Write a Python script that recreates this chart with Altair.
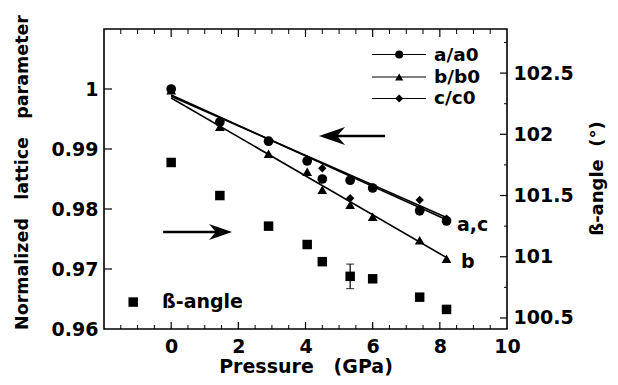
import altair as alt
import pandas as pd

# ---------------- data ----------------
pressure = [0, 1.45, 2.9, 4.05, 4.5, 5.33, 6.0, 7.4, 8.2]
a_norm = [1.0, 0.9945, 0.9913, 0.9880, 0.9850, 0.9848, 0.9835, 0.9797, 0.9780]
b_norm = [0.9998, 0.9937, 0.9892, 0.9862, 0.9832, 0.9807, 0.9787, 0.9748, 0.9717]
c_norm = [1.0, 0.9946, 0.9912, 0.9883, 0.9868, 0.9818, 0.9836, 0.9815, 0.9784]
a_err = [0, 0, 0, 0, 0, 0.0006, 0, 0, 0]
beta = [101.77, 101.50, 101.25, 101.10, 100.96, 100.84, 100.82, 100.67, 100.57]
beta_err = [0, 0, 0, 0.03, 0, 0.10, 0, 0, 0]

fit_p = [0, 8.2]
fit_a = [0.9990, 0.9782]
fit_b = [0.9985, 0.9719]
fit_c = [0.9988, 0.9786]

series_names = ["a/a0", "b/b0", "c/c0"]
x_labels = [0, 2, 4, 6, 8, 10]
yl_labels = [0.96, 0.97, 0.98, 0.99, 1.0]
yr_labels = [100.5, 101, 101.5, 102, 102.5]
x_major = [0, 2, 4, 6, 8]
x_minor = [-1.5, -1, -0.5, 0.5, 1, 1.5, 2.5, 3, 3.5, 4.5, 5, 5.5, 6.5, 7, 7.5, 8.5, 9, 9.5]
yl_major = [0.97, 0.98, 0.99, 1.0]
yr_major = [100.5, 101, 101.5, 102, 102.5]
yr_minor = [100.75, 101.25, 101.75, 102.25, 102.75]

# ---------------- settings ----------------
W, H = 403, 300
FONT = "DejaVu Sans"
FS = 19
xs = alt.Scale(domain=[-2, 10], nice=False, zero=False)
yls = alt.Scale(domain=[0.96, 1.01], nice=False, zero=False)
yrs = alt.Scale(domain=[100.41, 102.86], nice=False, zero=False)

x_axis = alt.Axis(values=x_labels, format="d", ticks=False, domain=False, grid=False,
                  labelFont=FONT, labelFontWeight="bold", labelFontSize=FS,
                  labelColor="black", labelPadding=8, labelFlush=False,
                  title="Pressure\u00a0\u00a0\u00a0(GPa)", titleFont=FONT,
                  titleFontWeight="bold", titleFontSize=FS, titleColor="black",
                  titleY=37, titleBaseline="middle")
yl_axis = alt.Axis(values=yl_labels, format="~g", ticks=False, domain=False, grid=False,
                   labelFont=FONT, labelFontWeight="bold", labelFontSize=FS,
                   labelColor="black", labelPadding=6,
                   title="Normalized\u00a0\u00a0\u00a0lattice\u00a0\u00a0\u00a0parameter",
                   titleFont=FONT, titleFontWeight="bold", titleFontSize=17.5,
                   titleColor="black", titleAngle=270, titleX=-82, titleY=143,
                   titleAlign="center", titleBaseline="middle")
yr_axis = alt.Axis(values=yr_labels, format="~g", ticks=False, domain=False, grid=False,
                   orient="right",
                   labelFont=FONT, labelFontWeight="bold", labelFontSize=FS,
                   labelColor="black", labelPadding=6,
                   title="ß-angle\u00a0\u00a0(°)", titleFont=FONT, titleFontWeight="bold",
                   titleFontSize=18, titleColor="black", titleAngle=270,
                   titleX=90, titleY=149, titleAlign="center", titleBaseline="middle")

pts = pd.DataFrame({"p": pressure, "a": a_norm, "b": b_norm, "c": c_norm,
                    "ae": a_err, "beta": beta, "be": beta_err})
pts["a_lo"] = pts["a"] - pts["ae"]
pts["a_hi"] = pts["a"] + pts["ae"]
pts["b_lo"] = pts["beta"] - pts["be"]
pts["b_hi"] = pts["beta"] + pts["be"]
aerr = pts[pts["ae"] > 0]
berr = pts[pts["be"] > 0]

fits = pd.DataFrame({
    "p": fit_p * 3,
    "v": fit_a + fit_b + fit_c,
    "s": ["a"] * 2 + ["b"] * 2 + ["c"] * 2,
})

def X(field):
    return alt.X(field, type="quantitative", scale=xs, axis=x_axis)

def YL(field):
    return alt.Y(field, type="quantitative", scale=yls, axis=yl_axis)

def YR(field):
    return alt.Y(field, type="quantitative", scale=yrs, axis=yr_axis)

# ---------------- left (lattice parameter) layers ----------------
fit_lines = alt.Chart(fits).mark_line(color="black", strokeWidth=1.6).encode(
    x=X("p"), y=YL("v"), detail="s:N")

pt_a = alt.Chart(pts).mark_point(shape="circle", filled=True, color="black", opacity=1,
                                 size=95).encode(x=X("p"), y=YL("a"))
pt_b = alt.Chart(pts).mark_point(shape="triangle-up", filled=True, color="black", opacity=1,
                                 size=95).encode(x=X("p"), y=YL("b"))
pt_c = alt.Chart(pts).mark_point(shape="diamond", filled=True, color="black", opacity=1,
                                 size=70).encode(x=X("p"), y=YL("c"))
err_a = alt.Chart(aerr).mark_rule(color="black", strokeWidth=1.2).encode(
    x=X("p"), y=YL("a_lo"), y2="a_hi")

# legend (top right)
leg = pd.DataFrame({"name": series_names,
                    "x0": [5.98] * 3, "x1": [7.59] * 3, "xm": [6.79] * 3, "xt": [7.83] * 3,
                    "y": [1.00575, 1.00200, 0.99842],
                    "shape": ["circle", "triangle-up", "diamond"]})
leg_lines = alt.Chart(leg).mark_rule(color="black", strokeWidth=1.2).encode(
    x=X("x0"), x2="x1", y=YL("y"))
leg_pts = alt.Chart(leg).mark_point(filled=True, color="black", opacity=1, size=65).encode(
    x=X("xm"), y=YL("y"),
    shape=alt.Shape("shape:N", scale=None, legend=None))
leg_txt = alt.Chart(leg).mark_text(font=FONT, fontWeight="bold", fontSize=18.5, align="left",
                                   baseline="middle", color="black").encode(
    x=X("xt"), y=YL("y"), text="name:N")

# curve labels
lab = pd.DataFrame({"t": ["a,c", "b"], "x": [8.51, 8.63], "y": [0.9774, 0.9711]})
lab_txt = alt.Chart(lab).mark_text(font=FONT, fontWeight="bold", fontSize=FS, align="left",
                                   baseline="middle", color="black").encode(
    x=X("x"), y=YL("y"), text="t:N")

# arrows
arr = pd.DataFrame({"x0": [4.75, -0.24], "x1": [6.37, 1.50], "y": [0.99217, 0.97617]})
arr_shaft = alt.Chart(arr).mark_rule(color="black", strokeWidth=2.6).encode(
    x=X("x0"), x2="x1", y=YL("y"))
headL = alt.Chart(pd.DataFrame({"x": [4.79], "y": [0.99217]})).mark_point(
    shape="M -1 0 L 1 -0.7 L 0.4 0 L 1 0.7 Z", filled=True, color="black", opacity=1,
    size=676).encode(x=X("x"), y=YL("y"))
headR = alt.Chart(pd.DataFrame({"x": [1.47], "y": [0.97617]})).mark_point(
    shape="M 1 0 L -1 -0.7 L -0.4 0 L -1 0.7 Z", filled=True, color="black", opacity=1,
    size=529).encode(x=X("x"), y=YL("y"))

# inward ticks (bottom / top / left)
tk_maj = pd.DataFrame({"v": x_major})
tk_min = pd.DataFrame({"v": x_minor})
tk_yl = pd.DataFrame({"v": yl_major})
bot_maj = alt.Chart(tk_maj).mark_rule(color="black", strokeWidth=1.2).encode(
    x=X("v"), y=alt.value(H), y2=alt.value(H - 7))
bot_min = alt.Chart(tk_min).mark_rule(color="black", strokeWidth=1.0).encode(
    x=X("v"), y=alt.value(H), y2=alt.value(H - 4))
top_maj = alt.Chart(tk_maj).mark_rule(color="black", strokeWidth=1.2).encode(
    x=X("v"), y=alt.value(0), y2=alt.value(8))
top_min = alt.Chart(tk_min).mark_rule(color="black", strokeWidth=1.0).encode(
    x=X("v"), y=alt.value(0), y2=alt.value(5))
left_tk = alt.Chart(tk_yl).mark_rule(color="black", strokeWidth=1.2).encode(
    y=YL("v"), x=alt.value(0), x2=alt.value(8))

left = alt.layer(fit_lines, bot_maj, bot_min, top_maj, top_min, left_tk,
                 arr_shaft, headL, headR, err_a, pt_a, pt_c, pt_b,
                 leg_lines, leg_pts, leg_txt, lab_txt)

# ---------------- right (beta angle) layers ----------------
sq = alt.Chart(pts).mark_point(shape="square", filled=True, color="black", opacity=1,
                               size=90).encode(x=X("p"), y=YR("beta"))
err_b = alt.Chart(berr).mark_rule(color="black", strokeWidth=1.2).encode(
    x=X("p"), y=YR("b_lo"), y2="b_hi")
cap_df = pd.DataFrame({"p": list(berr["p"]) * 2,
                       "v": list(berr["b_lo"]) + list(berr["b_hi"])})
caps = alt.Chart(cap_df).mark_tick(orient="horizontal", color="black", thickness=1.2,
                                   size=8).encode(x=X("p"), y=YR("v"))
bleg = pd.DataFrame({"x": [-1.13], "xt": [-0.27], "y": [100.63], "t": ["ß-angle"]})
bleg_pt = alt.Chart(bleg).mark_point(shape="square", filled=True, color="black", opacity=1,
                                     size=90).encode(x=X("x"), y=YR("y"))
bleg_txt = alt.Chart(bleg).mark_text(font=FONT, fontWeight="bold", fontSize=FS, align="left",
                                     baseline="middle", color="black").encode(
    x=X("xt"), y=YR("y"), text="t:N")
tk_r = pd.DataFrame({"v": yr_major})
tk_rm = pd.DataFrame({"v": yr_minor})
right_tk = alt.Chart(tk_r).mark_rule(color="black", strokeWidth=1.2).encode(
    y=YR("v"), x=alt.value(W), x2=alt.value(W - 7))
right_tkm = alt.Chart(tk_rm).mark_rule(color="black", strokeWidth=1.0).encode(
    y=YR("v"), x=alt.value(W), x2=alt.value(W - 3))

right = alt.layer(sq, err_b, caps, bleg_pt, bleg_txt, right_tk, right_tkm)

chart = alt.layer(left, right).resolve_scale(y="independent").properties(
    width=W, height=H,
    autosize=alt.AutoSizeParams(type="none"),
    padding={"left": 96, "top": 21, "right": 103, "bottom": 48},
    background="white",
).configure_view(stroke="black", strokeWidth=1.6)

chart.save("out.html", embed_options={"renderer": "svg", "actions": False})
